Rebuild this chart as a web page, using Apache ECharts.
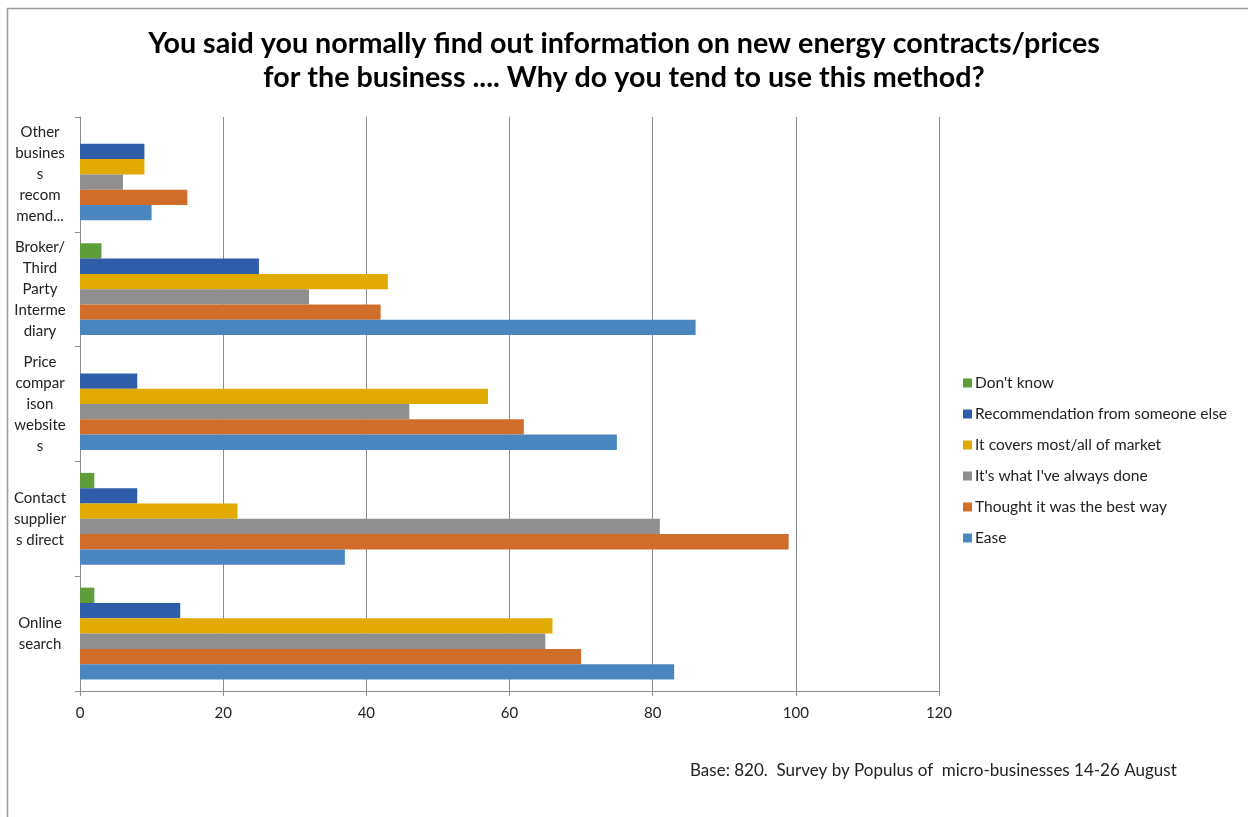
<!DOCTYPE html>
<html>
<head>
<meta charset="utf-8">
<title>Energy information method</title>
<script src="https://cdn.jsdelivr.net/npm/echarts@6/dist/echarts.min.js"></script>
<style>
  html, body { margin: 0; padding: 0; background: #fff; }
  #chart { width: 1248px; height: 817px; }
</style>
</head>
<body>
<div id="chart"></div>
<script>
// Categories, bottom to top along the vertical axis
const categories = [
  'Online search',
  'Contact suppliers direct',
  'Price comparison websites',
  'Broker/ Third Party Intermediary',
  'Other business recommend...'
];
// Wrapped tick labels shown beside the axis
const categoryLabels = [
  'Online\nsearch',
  'Contact\nsupplier\ns direct',
  'Price\ncompar\nison\nwebsite\ns',
  'Broker/\nThird\nParty\nInterme\ndiary',
  'Other\nbusines\ns\nrecom\nmend...'
];

// Series values, one per category (same order as categories)
const dontKnow       = [2, 2, 0, 3, 0];
const recommendation = [14, 8, 8, 25, 9];
const coversMarket   = [66, 22, 57, 43, 9];
const alwaysDone     = [65, 81, 46, 32, 6];
const bestWay        = [70, 99, 62, 42, 15];
const ease           = [83, 37, 75, 86, 10];

// Series listed top to bottom within each group
const seriesNames = [
  "Don't know",
  'Recommendation from someone else',
  'It covers most/all of market',
  "It's what I've always done",
  'Thought it was the best way',
  'Ease'
];
const seriesValues = [dontKnow, recommendation, coversMarket, alwaysDone, bestWay, ease];
const seriesColors = ['#5F9D3A', '#2F5DAA', '#E0AA00', '#8F8F8F', '#D16D2A', '#4A86BF'];

const xTicks = [0, 20, 40, 60, 80, 100, 120];

const titleText = 'You said you normally find out information on new energy contracts/prices\nfor the business .... Why do you tend to use this method?';
const footnote = 'Base: 820.  Survey by Populus of  micro-businesses 14-26 August';

const FONT = 'Lato, "Open Sans", sans-serif';

const chart = echarts.init(document.getElementById('chart'));

chart.setOption({
  animation: false,
  backgroundColor: '#ffffff',
  textStyle: { fontFamily: FONT },
  title: {
    text: titleText,
    left: 'center',
    top: 22,
    textStyle: {
      fontFamily: FONT,
      fontWeight: 'bold',
      fontSize: 28.7,
      lineHeight: 34,
      color: '#000000'
    }
  },
  legend: {
    orient: 'vertical',
    left: 958,
    top: 370,
    itemWidth: 9,
    itemHeight: 9,
    itemGap: 15,
    icon: 'rect',
    data: seriesNames,
    textStyle: { fontFamily: FONT, fontSize: 15.5, lineHeight: 16, color: '#222222', padding: [0, 0, 0, -2] }
  },
  grid: {
    left: 80,
    right: 309,
    top: 117,
    bottom: 126,
    containLabel: false
  },
  xAxis: {
    type: 'value',
    min: xTicks[0],
    max: xTicks[xTicks.length - 1],
    interval: 20,
    axisLine: { show: true, lineStyle: { color: '#8c8c8c', width: 1 } },
    axisTick: { show: true, length: 5, lineStyle: { color: '#8c8c8c' } },
    axisLabel: { fontFamily: FONT, fontSize: 15, color: '#222222', margin: 15 },
    splitLine: { show: true, lineStyle: { color: '#8c8c8c', width: 1 } }
  },
  yAxis: {
    type: 'category',
    data: categories,
    axisLine: { show: true, lineStyle: { color: '#8c8c8c', width: 1 } },
    axisTick: { show: true, length: 5, lineStyle: { color: '#8c8c8c' } },
    axisLabel: {
      fontFamily: FONT,
      fontSize: 15,
      lineHeight: 21,
      color: '#222222',
      align: 'center',
      margin: 40,
      formatter: function (value, idx) { return categoryLabels[idx]; }
    }
  },
  series: seriesNames.map(function (name, i) {
    return {
      name: name,
      type: 'bar',
      data: seriesValues[i],
      barGap: '0%',
      barCategoryGap: '20%',
      itemStyle: { color: seriesColors[i] }
    };
  }),
  graphic: [
    {
      type: 'rect',
      shape: { x: 7.5, y: 8.5, width: 1300, height: 900 },
      style: { fill: 'none', stroke: '#9a9a9a', lineWidth: 1.5 },
      silent: true
    },
    {
      type: 'text',
      left: 690,
      top: 762,
      style: { text: footnote, fontFamily: FONT, fontSize: 17, fill: '#222222' }
    }
  ]
});
</script>
</body>
</html>
